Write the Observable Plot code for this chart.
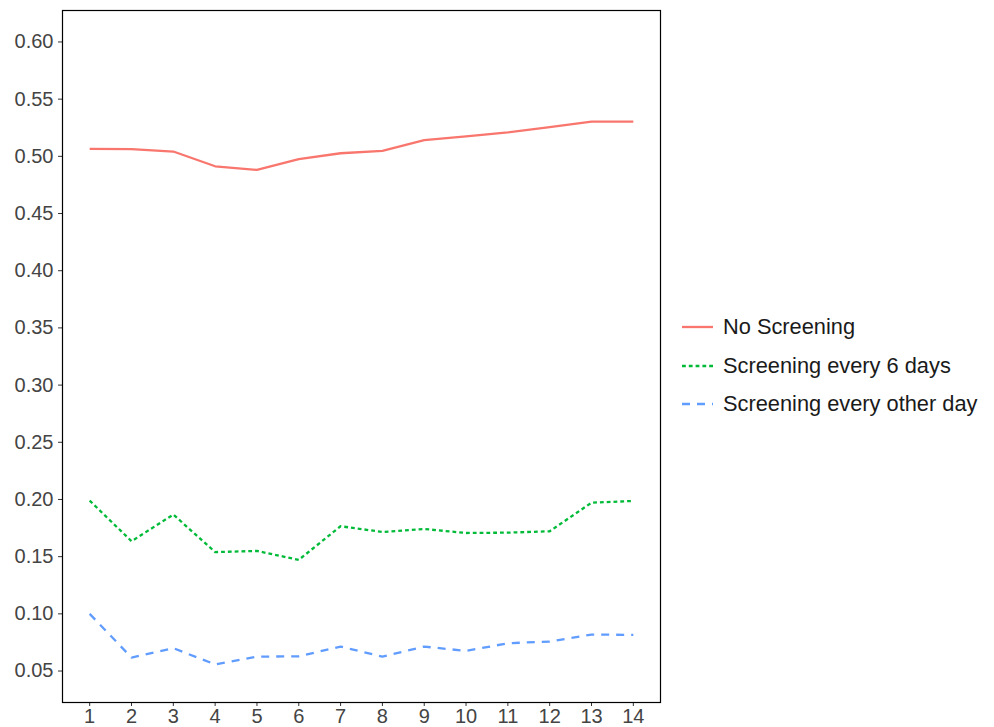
<!DOCTYPE html>
<html>
<head>
<meta charset="utf-8">
<script src="https://cdn.jsdelivr.net/npm/d3@7"></script>
<script src="https://cdn.jsdelivr.net/npm/@observablehq/plot@0.6"></script>
<style>
  html, body { margin: 0; padding: 0; background: #fff; }
  #wrap { position: relative; width: 994px; height: 727px; font-family: "Liberation Sans", Arial, sans-serif; }
  #legend { position: absolute; left: 682px; top: 308px; }
  .row { display: flex; align-items: center; height: 38.5px; font-size: 21.8px; color: #1a1a1a; }
  .row svg { width: 31px; height: 20px; margin-right: 10px; }
</style>
</head>
<body>
<div id="wrap"><div id="legend"></div></div>
<script>
const days = [1,2,3,4,5,6,7,8,9,10,11,12,13,14];
const series = ["No Screening", "Screening every 6 days", "Screening every other day"];
const noScreening = [0.5066,0.5063,0.5042,0.4913,0.4881,0.4975,0.5027,0.5048,0.5142,0.5174,0.5209,0.5256,0.5303,0.5303];
const every6 = [0.1990,0.1635,0.1868,0.1540,0.1550,0.1472,0.1766,0.1716,0.1742,0.1707,0.1710,0.1722,0.1972,0.1987];
const everyOther = [0.1000,0.0618,0.0700,0.0558,0.0626,0.0629,0.0714,0.0626,0.0714,0.0676,0.0743,0.0758,0.0819,0.0816];
const yTicks = [0.05,0.10,0.15,0.20,0.25,0.30,0.35,0.40,0.45,0.50,0.55,0.60];
const colors = ["#F8766D", "#00BA38", "#619CFF"];
const dashes = [null, "3.8,3", "8,7"];

const rows = (vals, s) => days.map((d, i) => ({day: d, value: vals[i], series: s}));
const data = [
  ...rows(noScreening, series[0]),
  ...rows(every6, series[1]),
  ...rows(everyOther, series[2])
];

const chart = Plot.plot({
  width: 994,
  height: 727,
  marginLeft: 62,
  marginRight: 334,
  marginTop: 10,
  marginBottom: 25,
  style: {fontFamily: "Liberation Sans, Arial, sans-serif", background: "transparent"},
  x: {domain: [0.35, 14.65]},
  y: {domain: [0.0225, 0.6275]},
  marks: [
    Plot.axisX({ticks: days, tickFormat: d => String(d), tickSize: 4, tickPadding: 2, fontSize: 20, fill: "#444", stroke: "#333", label: null}),
    Plot.axisY({ticks: yTicks, tickFormat: d3.format(".2f"), tickSize: 4, tickPadding: 5, fontSize: 20, fill: "#444", stroke: "#333", label: null}),
    ...series.map((s, i) => Plot.line(data.filter(d => d.series === s), {
      x: "day", y: "value", stroke: colors[i], strokeWidth: 2.3,
      strokeDasharray: dashes[i] || undefined, strokeLinecap: "butt", strokeLinejoin: "round"
    })),
    Plot.frame({stroke: "#000", strokeWidth: 1.2})
  ]
});
const wrap = document.getElementById("wrap");
wrap.insertBefore(chart, wrap.firstChild);

const legend = document.getElementById("legend");
series.forEach((s, i) => {
  const row = document.createElement("div");
  row.className = "row";
  row.innerHTML = `<svg viewBox="0 0 31 20"><line x1="0" x2="31" y1="10" y2="10" stroke="${colors[i]}" stroke-width="2.3" ${dashes[i] ? `stroke-dasharray="${dashes[i]}"` : ""}/></svg><span>${s}</span>`;
  legend.appendChild(row);
});
</script>
</body>
</html>
